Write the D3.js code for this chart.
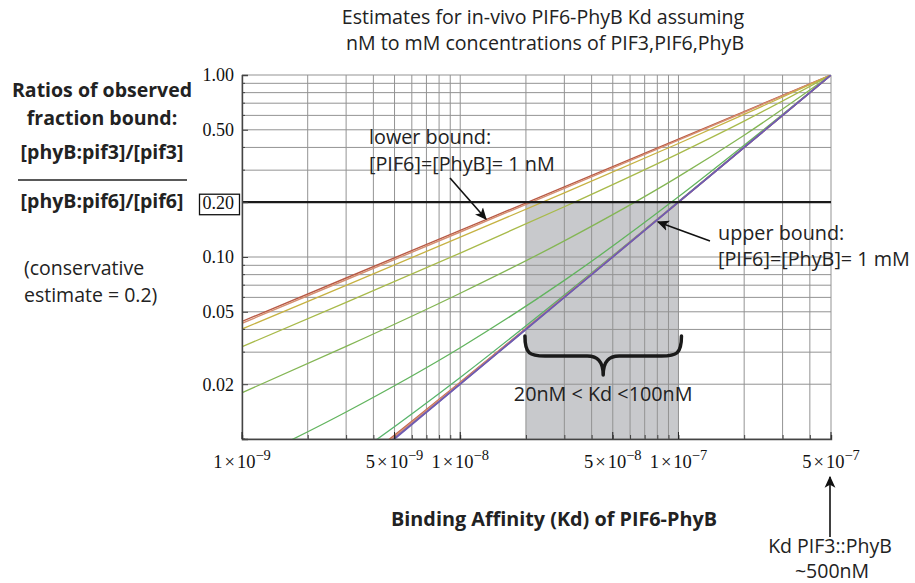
<!DOCTYPE html>
<html>
<head>
<meta charset="utf-8">
<script src="https://cdn.jsdelivr.net/npm/d3@7"></script>
<style>
  html, body { margin: 0; padding: 0; background: #fff; }
  svg { display: block; }
  .sans { font-family: "Open Sans", "Noto Sans", sans-serif; }
  .serif { font-family: "Liberation Serif", "DejaVu Serif", serif; }
</style>
</head>
<body>
<svg id="chart" width="915" height="583"></svg>
<script>
// Binding affinity values (Kd of PIF6-PhyB, molar) at which each curve is sampled
const kdSamples = [1e-9, 3e-9, 1e-8, 3e-8, 1e-7, 2e-7, 5e-7];

// Ratio of fraction bound for each assumed concentration, at kdSamples
const ratio1mM   = [0.04425, 0.07667, 0.1401, 0.2429, 0.4445, 0.6299, 1];
const ratio100uM = [0.04324, 0.07498, 0.1372, 0.2385, 0.4386, 0.6243, 1];
const ratio10uM  = [0.04020, 0.06989, 0.1285, 0.2252, 0.4205, 0.6071, 1];
const ratio1uM   = [0.03213, 0.05629, 0.1051, 0.1889, 0.3702, 0.5583, 1];
const ratio100nM = [0.01796, 0.03226, 0.06323, 0.1226, 0.2764, 0.4667, 1];
const ratio10nM  = [0.007261, 0.01408, 0.03174, 0.07437, 0.2141, 0.4110, 1];
const ratio1nM   = [0.003230, 0.007567, 0.02179, 0.06181, 0.2016, 0.4012, 1];
const ratioLowA  = [0.0025, 0.0065, 0.0205, 0.0605, 0.2005, 0.4004, 1];
const ratioLowB  = [0.0023, 0.0063, 0.0203, 0.0603, 0.2003, 0.4002, 1];
const ratioLowC  = [0.0021, 0.0061, 0.0201, 0.0601, 0.2001, 0.4001, 1];
const ratioLowD  = [0.0020, 0.0060, 0.0200, 0.0600, 0.2000, 0.4000, 1];

// Axis ranges and labelled ticks
const kdDomain = [1e-9, 5e-7];
const ratioDomain = [0.01, 1];
const ratioTickLabels = [1, 0.5, 0.2, 0.1, 0.05, 0.02];
const kdTickMantissa = [1, 5, 1, 5, 1, 5];
const kdTickExponent = [-9, -9, -8, -8, -7, -7];

// Observed ratio and the resulting Kd window
const observedRatio = 0.2;
const kdWindow = [2e-8, 1e-7];
const kdPif3 = 5e-7;

const series = [
  { values: ratio1mM,   color: "#b85a46", width: 1.4 },
  { values: ratio100uM, color: "#d68e70", width: 1.4 },
  { values: ratio10uM,  color: "#c6b242", width: 1.3 },
  { values: ratio1uM,   color: "#a8ba4a", width: 1.3 },
  { values: ratio100nM, color: "#84b654", width: 1.3 },
  { values: ratio10nM,  color: "#62b45e", width: 1.3 },
  { values: ratio1nM,   color: "#58b46c", width: 1.3 },
  { values: ratioLowA,  color: "#c26a52", width: 1.6 },
  { values: ratioLowB,  color: "#d89272", width: 1.6 },
  { values: ratioLowC,  color: "#8a6aaa", width: 1.6 },
  { values: ratioLowD,  color: "#6e5cb2", width: 1.6 }
];

const svg = d3.select("#chart");
svg.append("rect").attr("width", 915).attr("height", 583).attr("fill", "#fff");

const plot = { left: 242, right: 831, top: 75, bottom: 439 };
const x = d3.scaleLog().domain(kdDomain).range([plot.left, plot.right]);
const y = d3.scaleLog().domain(ratioDomain).range([plot.bottom, plot.top]);

const defs = svg.append("defs");
defs.append("clipPath").attr("id", "plotClip")
  .append("rect")
  .attr("x", plot.left).attr("y", plot.top)
  .attr("width", plot.right - plot.left).attr("height", plot.bottom - plot.top);
defs.append("marker")
  .attr("id", "arrowHead")
  .attr("viewBox", "0 0 10 10")
  .attr("refX", 9).attr("refY", 5)
  .attr("markerWidth", 12).attr("markerHeight", 12)
  .attr("markerUnits", "userSpaceOnUse")
  .attr("orient", "auto")
  .append("path").attr("d", "M0,0.5 L10,5 L0,9.5 L2.5,5 Z").attr("fill", "#111");

// Shaded Kd window below the observed ratio
svg.append("rect")
  .attr("x", x(kdWindow[0]))
  .attr("y", y(observedRatio))
  .attr("width", x(kdWindow[1]) - x(kdWindow[0]))
  .attr("height", y(ratioDomain[0]) - y(observedRatio))
  .attr("fill", "#c8c9cc");

// Log grid
const grid = svg.append("g").attr("stroke", "#939393").attr("stroke-width", 1);
grid.selectAll("line.vx").data(x.ticks()).join("line")
  .attr("x1", d => x(d)).attr("x2", d => x(d))
  .attr("y1", plot.top).attr("y2", plot.bottom);
grid.selectAll("line.hy").data(y.ticks()).join("line")
  .attr("x1", plot.left).attr("x2", plot.right)
  .attr("y1", d => y(d)).attr("y2", d => y(d));

// Curves
const line = d3.line()
  .x(d => x(d[0]))
  .y(d => y(d[1]))
  .curve(d3.curveMonotoneX);
svg.append("g").attr("clip-path", "url(#plotClip)")
  .selectAll("path").data(series).join("path")
  .attr("d", s => line(kdSamples.map((k, i) => [k, s.values[i]])))
  .attr("fill", "none")
  .attr("stroke", s => s.color)
  .attr("stroke-width", s => s.width);

// Observed ratio line
svg.append("line")
  .attr("x1", plot.left).attr("x2", plot.right)
  .attr("y1", y(observedRatio)).attr("y2", y(observedRatio))
  .attr("stroke", "#1a1a1a").attr("stroke-width", 2.2);

// Axes
const yAxis = d3.axisLeft(y)
  .tickValues(ratioTickLabels)
  .tickSize(-6).tickPadding(8)
  .tickFormat(d3.format(".2f"));
const gy = svg.append("g").attr("transform", `translate(${plot.left},0)`).call(yAxis);
gy.select(".domain").attr("stroke", "#444").attr("stroke-width", 1.4);
gy.selectAll(".tick line").attr("stroke", "#444");
gy.selectAll(".tick text")
  .attr("class", "serif").attr("font-size", 18).attr("fill", "#111")
  .attr("dy", "0.33em");

const minorY = svg.append("g").attr("stroke", "#444");
minorY.selectAll("line").data(y.ticks().filter(t => !ratioTickLabels.includes(+t.toFixed(2)))).join("line")
  .attr("x1", plot.left).attr("x2", plot.left + 3)
  .attr("y1", d => y(d)).attr("y2", d => y(d));

const gx = svg.append("g").attr("transform", `translate(0,${plot.bottom})`)
  .call(d3.axisBottom(x).tickValues(x.ticks()).tickSize(-4).tickFormat(""));
gx.select(".domain").attr("stroke", "#444").attr("stroke-width", 1.4);
gx.selectAll(".tick line").attr("stroke", "#444");

const kdTickValues = kdTickMantissa.map((m, i) => m * Math.pow(10, kdTickExponent[i]));
svg.append("g").attr("stroke", "#222")
  .selectAll("line").data(kdTickValues).join("line")
  .attr("x1", d => x(d)).attr("x2", d => x(d))
  .attr("y1", plot.bottom).attr("y2", plot.bottom - 7);

// Boxed observed-ratio tick label
svg.append("rect")
  .attr("x", 199.5).attr("y", y(observedRatio) - 8)
  .attr("width", 40).attr("height", 20.5)
  .attr("fill", "none").attr("stroke", "#111").attr("stroke-width", 1.3);

// Kd tick labels: m×10^e
const kdLabels = svg.append("g").attr("class", "serif").attr("fill", "#111");
kdTickValues.forEach((v, i) => {
  const t = kdLabels.append("text")
    .attr("x", x(v)).attr("y", 468)
    .attr("text-anchor", "middle").attr("font-size", 18.5);
  t.append("tspan").text(kdTickMantissa[i]);
  t.append("tspan").attr("dx", 2).text("\u00d7");
  t.append("tspan").attr("dx", 2).text("10");
  t.append("tspan").attr("font-size", 14.5).attr("dy", -8)
    .text("\u2212" + Math.abs(kdTickExponent[i]));
});

// Title
const title = svg.append("g").attr("class", "sans").attr("fill", "#222")
  .attr("font-size", 19.6).attr("text-anchor", "middle");
title.append("text").attr("x", 543).attr("y", 24).text("Estimates for in-vivo PIF6-PhyB Kd assuming");
title.append("text").attr("x", 545).attr("y", 50).text("nM to mM concentrations of PIF3,PIF6,PhyB");

// Y-axis title
const yt = svg.append("g").attr("class", "sans").attr("fill", "#222")
  .attr("font-weight", "bold").attr("font-size", 19.5).attr("text-anchor", "middle");
yt.append("text").attr("x", 102).attr("y", 97).text("Ratios of observed");
yt.append("text").attr("x", 102).attr("y", 125).text("fraction bound:");
yt.append("text").attr("x", 102).attr("y", 159).text("[phyB:pif3]/[pif3]");
yt.append("text").attr("x", 102).attr("y", 208).text("[phyB:pif6]/[pif6]");
svg.append("line").attr("x1", 18).attr("x2", 187).attr("y1", 180).attr("y2", 180)
  .attr("stroke", "#222").attr("stroke-width", 1.5);
const note = svg.append("g").attr("class", "sans").attr("fill", "#222").attr("font-size", 19.5);
note.append("text").attr("x", 24).attr("y", 275).text("(conservative");
note.append("text").attr("x", 24).attr("y", 302).text("estimate = 0.2)");

// X-axis title
svg.append("text").attr("class", "sans")
  .attr("x", 554).attr("y", 526).attr("text-anchor", "middle")
  .attr("font-weight", "bold").attr("font-size", 19.8).attr("fill", "#222")
  .text("Binding Affinity (Kd) of PIF6-PhyB");

// Bound annotations
const ann = svg.append("g").attr("class", "sans").attr("fill", "#222").attr("font-size", 19.8);
ann.append("text").attr("x", 369).attr("y", 144).text("lower bound:");
ann.append("text").attr("x", 369).attr("y", 171).text("[PIF6]=[PhyB]= 1 nM");
ann.append("text").attr("x", 718).attr("y", 240).text("upper bound:");
ann.append("text").attr("x", 718).attr("y", 266).text("[PIF6]=[PhyB]= 1 mM");

svg.append("line")
  .attr("x1", 450).attr("y1", 178).attr("x2", 486).attr("y2", 219)
  .attr("stroke", "#111").attr("stroke-width", 1.6).attr("marker-end", "url(#arrowHead)");
svg.append("line")
  .attr("x1", 710).attr("y1", 241).attr("x2", 658).attr("y2", 222)
  .attr("stroke", "#111").attr("stroke-width", 1.6).attr("marker-end", "url(#arrowHead)");

// Brace over the Kd window
const bx0 = x(kdWindow[0]) - 1, bx1 = x(kdWindow[1]) + 3, bm = (bx0 + bx1) / 2;
const braceTop = 336, braceMid = 356, braceTip = 375;
svg.append("path")
  .attr("d", `M${bx0},${braceTop} C${bx0},${braceMid - 2} ${bx0 + 5},${braceMid} ${bx0 + 20},${braceMid}
    L${bm - 16},${braceMid} C${bm - 6},${braceMid} ${bm},${braceMid + 5} ${bm},${braceTip}
    C${bm},${braceMid + 5} ${bm + 6},${braceMid} ${bm + 16},${braceMid}
    L${bx1 - 20},${braceMid} C${bx1 - 5},${braceMid} ${bx1},${braceMid - 2} ${bx1},${braceTop}`)
  .attr("fill", "none").attr("stroke", "#1a1a1a").attr("stroke-width", 3.5)
  .attr("stroke-linecap", "round").attr("stroke-linejoin", "round");
svg.append("text").attr("class", "sans")
  .attr("x", bm).attr("y", 401).attr("text-anchor", "middle")
  .attr("font-size", 19.8).attr("fill", "#222")
  .text("20nM < Kd <100nM");

// PIF3 reference Kd
svg.append("line")
  .attr("x1", x(kdPif3) - 1).attr("y1", 537).attr("x2", x(kdPif3) - 1).attr("y2", 477)
  .attr("stroke", "#111").attr("stroke-width", 1.6).attr("marker-end", "url(#arrowHead)");
const ref = svg.append("g").attr("class", "sans").attr("fill", "#222")
  .attr("font-size", 19.5).attr("text-anchor", "middle");
ref.append("text").attr("x", 830).attr("y", 553).text("Kd PIF3::PhyB");
ref.append("text").attr("x", 832).attr("y", 578).text("~500nM");
</script>
</body>
</html>
